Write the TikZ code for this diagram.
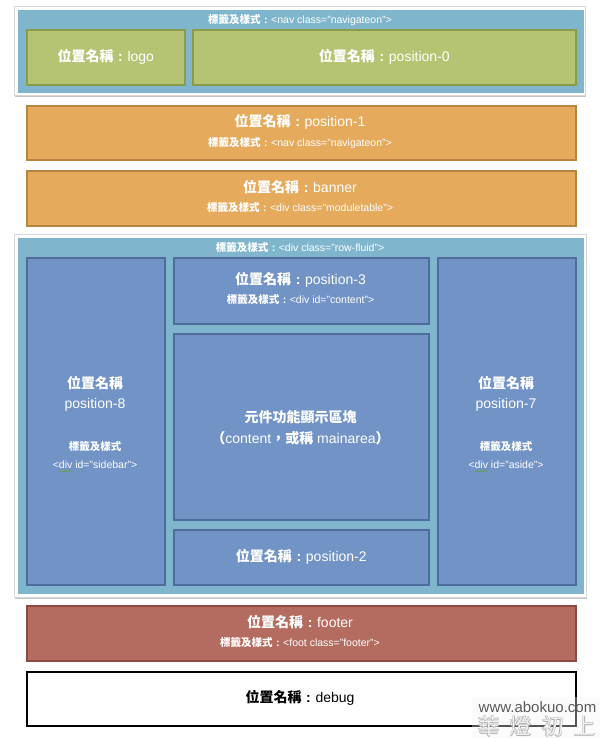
\documentclass[tikz,border=0pt]{standalone}
\usepackage{fontspec}
\usetikzlibrary{calc,decorations.pathmorphing}
\setmainfont{Liberation Sans}
\newfontfamily\cjk{Noto Sans CJK TC}
\definecolor{contblue}{HTML}{7FB6CD}
\definecolor{framegray}{HTML}{D8D8D8}
\definecolor{shadowgray}{HTML}{C4C4C4}
\definecolor{greenfill}{HTML}{B4C472}
\definecolor{greenline}{HTML}{8B9B4C}
\definecolor{orangefill}{HTML}{E5AA5C}
\definecolor{orangeline}{HTML}{B98440}
\definecolor{posfill}{HTML}{7193C6}
\definecolor{posline}{HTML}{4F6C9C}
\definecolor{footfill}{HTML}{B46B60}
\definecolor{footline}{HTML}{8C4A42}
\definecolor{wmgray}{HTML}{5A5A5A}
\definecolor{squig}{HTML}{5FA43A}
\newcommand\myzh[1]{{\cjk\bfseries #1}}
\newcommand\zcolon{\makebox[1em][c]{\textbf{:}}}
\newcommand\bigtxt{\fontsize{14}{16}\selectfont}
\newcommand\smalltxt{\fontsize{10.5}{12}\selectfont}
\newcommand\wmtext{\cjk 華\hspace{10pt}燈\hspace{10pt}初\hspace{10pt}上}
\tikzset{
  area/.style={rectangle, anchor=north west, inner sep=0pt, line width=1.6pt},
  frame/.style={area, fill=white, draw=framegray, line width=0.8pt},
  cont/.style={area, fill=contblue, draw=none},
  greenbox/.style={area, fill=greenfill, draw=greenline},
  orangebox/.style={area, fill=orangefill, draw=orangeline},
  posbox/.style={area, fill=posfill, draw=posline},
  footbox/.style={area, fill=footfill, draw=footline},
  debugbox/.style={area, fill=white, draw=black, line width=2pt},
  big/.style={text=white, font=\bigtxt, inner sep=0pt},
  small/.style={text=white, font=\smalltxt, inner sep=0pt},
  wmchar/.style={inner sep=0pt, font=\fontsize{22}{24}\selectfont},
  squiggle/.style={draw=squig, line width=0.5pt, decorate, decoration={snake, segment length=2.6pt, amplitude=0.7pt}},
}
\begin{document}
\begin{tikzpicture}[x=1pt,y=-1pt]
\useasboundingbox (0,0) rectangle (600,738);
\fill[white] (0,0) rectangle (600,738);
% top navigation container
\fill[shadowgray] (15,8) rectangle (586,97);
\node[frame, minimum width=571pt, minimum height=89pt] (frame1) at (14,6) {};
\node[cont, minimum width=566pt, minimum height=83pt] (cont1) at (17,9) {};
\node[small] (t1) at (300,20) {\myzh{標籤及樣式}\zcolon<nav class="navigateon">};
\node[greenbox, minimum width=158pt, minimum height=55pt] (logo) at (26,29) {};
\node[big] (logot) at (logo.center) {\myzh{位置名稱}\zcolon logo};
\node[greenbox, minimum width=383pt, minimum height=55pt] (pos0) at (192,29) {};
\node[big] (pos0t) at (pos0.center) {\myzh{位置名稱}\zcolon position-0};
% position-1
\node[orangebox, minimum width=549pt, minimum height=54pt] (pos1) at (26,105) {};
\node[big] (pos1a) at (300,122) {\myzh{位置名稱}\zcolon position-1};
\node[small] (pos1b) at (300,143) {\myzh{標籤及樣式}\zcolon<nav class="navigateon">};
% banner
\node[orangebox, minimum width=549pt, minimum height=55pt] (banner) at (26,170) {};
\node[big] (bannera) at (300,187) {\myzh{位置名稱}\zcolon banner};
\node[small] (bannerb) at (300,208) {\myzh{標籤及樣式}\zcolon<div class="moduletable">};
% row-fluid container
\fill[shadowgray] (15,236) rectangle (587,599);
\node[frame, minimum width=572pt, minimum height=363pt] (frame2) at (14,234) {};
\node[cont, minimum width=566pt, minimum height=356pt] (cont2) at (17,237) {};
\node[small] (t2) at (300,248) {\myzh{標籤及樣式}\zcolon<div class="row-fluid">};
% position-8
\node[posbox, minimum width=138pt, minimum height=327pt] (pos8) at (26,257) {};
\node[big] (pos8a) at (95,383) {\myzh{位置名稱}};
\node[big] (pos8b) at (95,405) {position-8};
\node[small] (pos8c) at (95,447) {\myzh{標籤及樣式}};
\node[small] (pos8d) at (95,465) {<div id="sidebar">};
\coordinate (sq8a) at ($(pos8d.base west)+(6.3,2.4)$);
\coordinate (sq8b) at ($(sq8a)+(13,0)$);
\draw[squiggle] (sq8a) -- (sq8b);
% position-3
\node[posbox, minimum width=255pt, minimum height=66pt] (pos3) at (173,257) {};
\node[big] (pos3a) at (300.5,280) {\myzh{位置名稱}\zcolon position-3};
\node[small] (pos3b) at (300.5,300) {\myzh{標籤及樣式}\zcolon<div id="content">};
% content
\node[posbox, minimum width=255pt, minimum height=186pt] (content) at (173,333) {};
\node[big] (conta) at (300.5,417) {\myzh{元件功能顯示區塊}};
\node[big] (contb) at (300.5,438) {\myzh{（}content\myzh{，或稱} mainarea\myzh{）}};
% position-2
\node[posbox, minimum width=255pt, minimum height=55pt] (pos2) at (173,529) {};
\node[big] (pos2a) at (pos2.center) {\myzh{位置名稱}\zcolon position-2};
% position-7
\node[posbox, minimum width=138pt, minimum height=327pt] (pos7) at (437,257) {};
\node[big] (pos7a) at (506,383) {\myzh{位置名稱}};
\node[big] (pos7b) at (506,405) {position-7};
\node[small] (pos7c) at (506,447) {\myzh{標籤及樣式}};
\node[small] (pos7d) at (506,465) {<div id="aside">};
\coordinate (sq7a) at ($(pos7d.base west)+(6.3,2.4)$);
\coordinate (sq7b) at ($(sq7a)+(13,0)$);
\draw[squiggle] (sq7a) -- (sq7b);
% footer
\node[footbox, minimum width=549pt, minimum height=55pt] (footer) at (26,605) {};
\node[big] (foota) at (300,622) {\myzh{位置名稱}\zcolon footer};
\node[small] (footb) at (300,643) {\myzh{標籤及樣式}\zcolon<foot class="footer">};
% debug
\node[debugbox, minimum width=549pt, minimum height=54pt] (debug) at (26,671) {};
\node[big, text=black] (debuga) at (300,698) {\myzh{位置名稱}\zcolon debug};
% watermark
\node[rectangle, anchor=north west, inner sep=0pt, fill=black!4, fill opacity=0.35, minimum width=128pt, minimum height=41pt] (wm) at (472,697) {};
\node[inner sep=0pt, text=wmgray, font=\fontsize{15}{17}\selectfont] (wm1) at (537.5,707) {www.abokuo.com};
\node[wmchar, text=black!32] (wm2a) at (537.5,726.6) {\wmtext};
\node[wmchar, text=black!32] (wm2b) at (536.5,726.6) {\wmtext};
\node[wmchar, text=black!32] (wm2c) at (537,727.1) {\wmtext};
\node[wmchar, text=black!32] (wm2d) at (537,726.1) {\wmtext};
\node[wmchar, text=black!5] (wm2) at (537,726.6) {\wmtext};
\end{tikzpicture}
\end{document}
